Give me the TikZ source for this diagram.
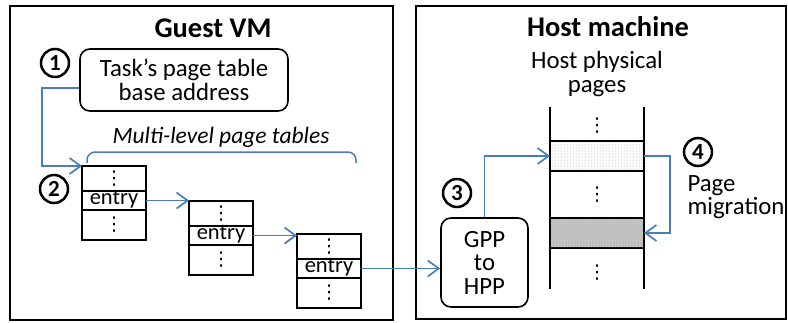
\documentclass[tikz,border=0pt]{standalone}
\usepackage{fontspec}
\setmainfont{Carlito}
\newfontfamily\symfont{DejaVu Sans}
\usetikzlibrary{arrows.meta,positioning,patterns}
\definecolor{vmblue}{HTML}{4A7EBB}
\newcommand{\dotcol}{{\symfont\fontsize{19}{19}\selectfont ⋮}}
\tikzset{
  frameBox/.style={draw, line width=2.2pt, inner sep=0pt},
  roundBox/.style={draw, line width=1.6pt, rounded corners=10pt, align=center, inner sep=0pt},
  cellBox/.style={draw, line width=1.4pt, minimum width=64pt, inner sep=0pt, outer sep=0pt, font=\fontsize{22.5}{23}\selectfont},
  pageBox/.style={draw, line width=1.4pt, minimum width=94pt, minimum height=30pt, inner sep=0pt, outer sep=0pt},
  stepNum/.style={circle, draw, line width=2.5pt, minimum size=28pt, inner sep=0pt, font=\fontsize{23}{23}\selectfont\bfseries},
  link/.style={-{Straight Barb[length=11pt,width=16pt,line width=1.7pt]}, line width=1.9pt, draw=vmblue},
  bodyFont/.style={font=\fontsize{24.8}{23.5}\selectfont, align=center},
  titleFont/.style={font=\fontsize{28.5}{28}\selectfont\bfseries}
}
\begin{document}
\begin{tikzpicture}[x=1pt,y=-1pt]
  \useasboundingbox (0,0) rectangle (788,322);
  % two frames
  \node[frameBox, minimum width=383pt, minimum height=314pt] (guest) at (201.5,163) {};
  \node[frameBox, minimum width=370pt, minimum height=313pt] (host) at (601,162.5) {};
  \node[titleFont] (guest-title) at (213,28) {Guest VM};
  \node[titleFont] (host-title) at (608,27) {Host machine};
  % guest side
  \node[roundBox, minimum width=208pt, minimum height=62pt, bodyFont] (task) at (184,80) {Task’s page table\\base address};
  \node[stepNum] (s1) at (55,63) {1};
  \node[font=\fontsize{23.5}{23}\selectfont\itshape] (brace-lab) at (221,137) {Multi-level page tables};
  \draw[vmblue, line width=1.5pt, rounded corners=8pt] (87,163) -- (87,152) -- (356,152) -- (356,163);
  \foreach \i/\x/\y in {1/114/200.5, 2/221/235.5, 3/329/268.5} {
    \node[cellBox, minimum height=19pt, text height=12pt, text depth=4pt] (tab\i) at (\x,\y) {entry};
    \node[cellBox, minimum height=25pt, above=0pt of tab\i] (tab\i-top) {\dotcol};
    \node[cellBox, minimum height=30pt, below=0pt of tab\i] (tab\i-bot) {\dotcol};
  }
  \node[stepNum] (s2) at (54,189) {2};
  \draw[link] ([yshift=-8pt]task.west) -- ++(-37,0) |- (tab1-top.north west);
  \draw[link] (tab1.east) -- (tab1.east -| tab2-top.west);
  \draw[link] (tab2.east) -- (tab2.east -| tab3-top.west);
  % host side
  \node[roundBox, minimum width=87pt, minimum height=89pt, bodyFont] (gpp) at (484.5,262.5) {GPP\\to\\HPP};
  \node[stepNum] (s3) at (457,193) {3};
  \draw[link] (tab3.east) -- (tab3.east -| gpp.west);
  \node[bodyFont, font=\fontsize{24.8}{24}\selectfont] (hpp-lab) at (597,74) {Host physical\\pages};
  \node[pageBox, pattern=dots, pattern color=gray!85] (hot) at (597,156) {};
  \node[pageBox, fill=gray!50, postaction={pattern=dots, pattern color=gray!25}] (cold) at (597,233) {};
  \draw[line width=1.4pt] ([yshift=34pt]hot.north west) -- ([yshift=-41pt]cold.south west);
  \draw[line width=1.4pt] ([yshift=34pt]hot.north east) -- ([yshift=-41pt]cold.south east);
  \node (dots-a) at (597,126) {\dotcol};
  \node (dots-b) at (597,195) {\dotcol};
  \node (dots-c) at (597,273) {\dotcol};
  \draw[link] (gpp.north) |- (hot.west);
  \draw[link] (hot.east) -- ++(26,0) |- (cold.east);
  \node[stepNum] (s4) at (698,152) {4};
  \node[bodyFont, align=left, anchor=west] (mig-lab) at (684,197) {Page\\migration};
\end{tikzpicture}
\end{document}
